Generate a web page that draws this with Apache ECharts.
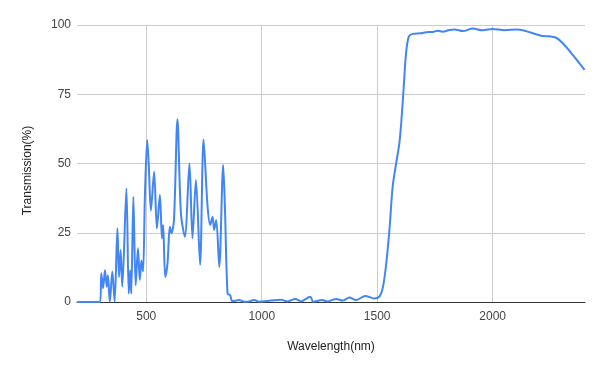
<!DOCTYPE html>
<html>
<head>
<meta charset="utf-8">
<script src="https://cdn.jsdelivr.net/npm/echarts@6/dist/echarts.min.js"></script>
<style>html,body{margin:0;padding:0;background:#fff}#c{width:605px;height:374px}</style>
</head>
<body>
<div id="c"></div>
<script>
const wavelengths = [200, 300, 305, 313, 321, 329, 334, 342, 353, 363, 375, 382, 389, 396, 414, 424, 430, 435, 444, 454, 464, 472, 479, 486, 494, 504, 511, 520, 534, 546, 559, 568, 573, 582, 592, 602, 609, 620, 635, 650, 667, 687, 700, 715, 733, 748, 765, 777, 787, 794, 803, 816, 833, 841, 852, 863, 873, 902, 924, 945, 967, 989, 1040, 1083, 1112, 1145, 1170, 1210, 1223, 1261, 1285, 1322, 1350, 1380, 1408, 1449, 1487, 1509, 1524, 1538, 1553, 1567, 1582, 1596, 1604, 1615, 1625, 1637, 1654, 1690, 1712, 1741, 1762, 1784, 1813, 1835, 1871, 1914, 1957, 2000, 2051, 2109, 2160, 2210, 2246, 2275, 2304, 2347, 2398];
const transmission = [0, 0, 10.4, 5, 11.5, 5.5, 9.7, 0.1, 11, 0.1, 26.6, 9, 18.8, 5.5, 41, 3, 11.5, 3, 38, 6, 19.4, 8, 15, 11, 38, 58.5, 49, 33, 47, 26.6, 38.6, 23, 27.8, 9, 14, 27.2, 24.8, 29.6, 66, 32, 23.6, 50, 23, 44, 13.4, 58.7, 35, 27.8, 30.8, 26, 29.6, 12.7, 49.5, 33, 3, 2.5, 0.3, 0.7, 0.1, 0.2, 0.7, 0.1, 0.5, 0.8, 0.2, 1.1, 0.2, 1.9, 0.1, 0.7, 0.2, 1.1, 0.5, 1.6, 0.7, 2.2, 1.3, 1.9, 5, 13, 26, 41.6, 50, 57.3, 64.5, 77.7, 89.8, 95.8, 96.8, 97, 97.4, 97.5, 97.9, 97.6, 98.2, 98.4, 97.8, 98.7, 98.1, 98.6, 98.1, 98.4, 97.4, 96.1, 95.9, 95.4, 93.4, 89.2, 83.8];
const xTickLabels = [500, 1000, 1500, 2000];
const yTicks = [0, 25, 50, 75, 100];

const points = wavelengths.map((w, i) => [w, transmission[i]]);
const font = 'Arial, "Liberation Sans", sans-serif';

const chart = echarts.init(document.getElementById('c'), null, {renderer: 'canvas'});
chart.setOption({
  animation: false,
  backgroundColor: '#fff',
  grid: {left: 77, right: 20, top: 25, bottom: 72, containLabel: false},
  xAxis: {
    type: 'value',
    min: 200, max: 2400, interval: 100,
    name: 'Wavelength(nm)', nameLocation: 'middle', nameGap: 39,
    nameTextStyle: {fontFamily: font, fontSize: 12, color: '#222'},
    axisLine: {show: true, onZero: false, lineStyle: {color: '#333', width: 1}},
    axisTick: {show: false},
    axisLabel: {
      interval: 0, margin: 9, fontFamily: font, fontSize: 12, color: '#444',
      formatter: v => xTickLabels.indexOf(v) >= 0 ? String(v) : ''
    },
    splitLine: {show: true, lineStyle: {color: ['rgba(0,0,0,0)', 'rgba(0,0,0,0)', 'rgba(0,0,0,0)', '#cccccc', 'rgba(0,0,0,0)'], width: 1}}
  },
  yAxis: {
    type: 'value',
    min: yTicks[0], max: yTicks[yTicks.length - 1], interval: 25,
    name: 'Transmission(%)', nameLocation: 'middle', nameGap: 43,
    nameTextStyle: {fontFamily: font, fontSize: 12, color: '#222', padding: [0, 14, 0, 0]},
    axisLine: {show: false},
    axisTick: {show: false},
    axisLabel: {margin: 6, fontFamily: font, fontSize: 12, color: '#444'},
    splitLine: {show: true, lineStyle: {color: '#cccccc', width: 1}}
  },
  series: [{
    type: 'line',
    data: points,
    smooth: 0.3,
    showSymbol: false,
    symbol: 'none',
    lineStyle: {color: '#4285F4', width: 2},
    z: 5
  }]
});
</script>
</body>
</html>
